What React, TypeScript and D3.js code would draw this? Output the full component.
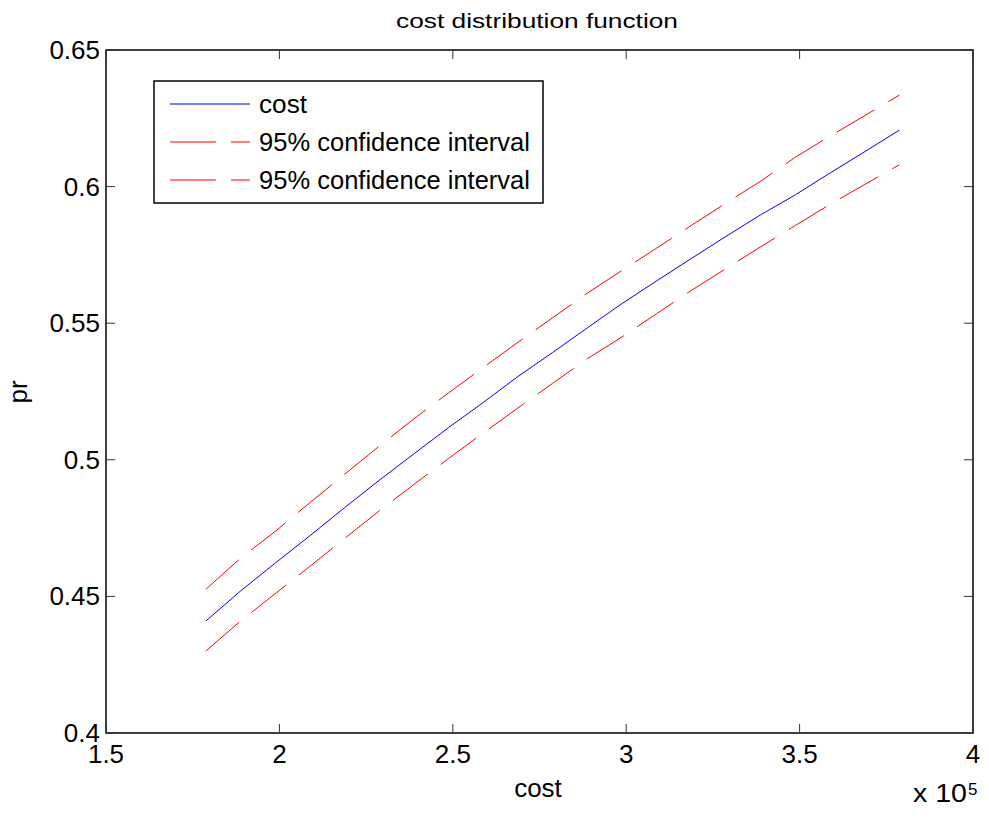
import React, { useEffect, useRef } from 'react';
import * as d3 from 'd3';

// cost values (x 10^5)
const costX = [1.788, 1.888, 1.988, 2.088, 2.188, 2.288, 2.388, 2.488, 2.588, 2.688, 2.788,
  2.888, 2.988, 3.088, 3.188, 3.288, 3.388, 3.488, 3.588, 3.688, 3.788];
const costPr = [0.4410, 0.4520, 0.4622, 0.4722, 0.4825, 0.4925, 0.5022, 0.5118, 0.5210, 0.5305, 0.5393,
  0.5483, 0.5572, 0.5655, 0.5737, 0.5818, 0.5897, 0.5970, 0.6050, 0.6128, 0.6207];
const upperPr = [0.4526, 0.4640, 0.4738, 0.4843, 0.4947, 0.5050, 0.5150, 0.5245, 0.5338, 0.5430, 0.5520,
  0.5610, 0.5693, 0.5775, 0.5858, 0.5940, 0.6020, 0.6108, 0.6185, 0.6260, 0.6335];
const lowerPr = [0.4300, 0.4410, 0.4510, 0.4610, 0.4712, 0.4813, 0.4910, 0.5005, 0.5098, 0.5190, 0.5280,
  0.5370, 0.5450, 0.5535, 0.5620, 0.5700, 0.5780, 0.5858, 0.5935, 0.6008, 0.6080];

const xTicks = [1.5, 2, 2.5, 3, 3.5, 4];
const yTicks = [0.4, 0.45, 0.5, 0.55, 0.6, 0.65];
const legendLabels = ['cost', '95% confidence interval', '95% confidence interval'];

const FONT = '"Liberation Sans", Arial, Helvetica, sans-serif';

const App: React.FC = () => {
  const svgRef = useRef<SVGSVGElement | null>(null);

  useEffect(() => {
    if (!svgRef.current) return;
    const svg = d3.select(svgRef.current);
    svg.selectAll('*').remove();

    const left = 106, right = 973, top = 50, bottom = 733;
    const x = d3.scaleLinear().domain([1.5, 4]).range([left, right]);
    const y = d3.scaleLinear().domain([0.4, 0.65]).range([bottom, top]);
    const tick = 9;

    svg.append('rect').attr('width', 989).attr('height', 820).attr('fill', '#fff');

    // axes box
    svg.append('rect')
      .attr('x', left).attr('y', top)
      .attr('width', right - left).attr('height', bottom - top)
      .attr('fill', 'none').attr('stroke', '#000').attr('stroke-width', 1.5);

    // ticks (inside, all four sides)
    const tickG = svg.append('g').attr('stroke', '#333').attr('stroke-width', 1);
    xTicks.forEach(t => {
      tickG.append('line').attr('x1', x(t)).attr('x2', x(t)).attr('y1', bottom).attr('y2', bottom - tick);
      tickG.append('line').attr('x1', x(t)).attr('x2', x(t)).attr('y1', top).attr('y2', top + tick);
    });
    yTicks.forEach(t => {
      tickG.append('line').attr('x1', left).attr('x2', left + tick).attr('y1', y(t)).attr('y2', y(t));
      tickG.append('line').attr('x1', right).attr('x2', right - tick).attr('y1', y(t)).attr('y2', y(t));
    });

    // tick labels
    svg.append('g').selectAll('text').data(xTicks).enter().append('text')
      .attr('x', d => x(d)).attr('y', 763)
      .attr('text-anchor', 'middle')
      .style('font-family', FONT).style('font-size', '26px')
      .text(d => String(d));

    svg.append('g').selectAll('text').data(yTicks).enter().append('text')
      .attr('x', 100).attr('y', d => y(d) + 9)
      .attr('text-anchor', 'end')
      .style('font-family', FONT).style('font-size', '26px')
      .text(d => String(d));

    // exponent
    svg.append('text').attr('x', 913).attr('y', 802)
      .attr('textLength', 54).attr('lengthAdjust', 'spacingAndGlyphs')
      .style('font-family', FONT).style('font-size', '26px').text('x 10');
    svg.append('text').attr('x', 968).attr('y', 795)
      .style('font-family', FONT).style('font-size', '17px').text('5');

    // axis labels + title
    svg.append('text').attr('x', 538).attr('y', 797).attr('text-anchor', 'middle')
      .style('font-family', FONT).style('font-size', '26px').text('cost');
    svg.append('text').attr('transform', 'translate(27,392) rotate(-90)').attr('text-anchor', 'middle')
      .style('font-family', FONT).style('font-size', '26px').text('pr');
    svg.append('text').attr('x', 537).attr('y', 28).attr('text-anchor', 'middle')
      .attr('textLength', 282).attr('lengthAdjust', 'spacingAndGlyphs')
      .style('font-family', FONT).style('font-size', '21px').text('cost distribution function');

    // lines
    const line = d3.line<number>()
      .x((_, i) => x(costX[i]))
      .y(d => y(d));

    svg.append('path').datum(upperPr).attr('d', line)
      .attr('fill', 'none').attr('stroke', '#ff0000').attr('stroke-width', 1)
      .attr('stroke-dasharray', '44,16');
    svg.append('path').datum(lowerPr).attr('d', line)
      .attr('fill', 'none').attr('stroke', '#ff0000').attr('stroke-width', 1)
      .attr('stroke-dasharray', '44,16');
    svg.append('path').datum(costPr).attr('d', line)
      .attr('fill', 'none').attr('stroke', '#0000ff').attr('stroke-width', 1);

    // legend
    const lg = svg.append('g');
    lg.append('rect').attr('x', 154).attr('y', 81).attr('width', 389).attr('height', 122)
      .attr('fill', '#fff').attr('stroke', '#000').attr('stroke-width', 1.5);
    const rowsY = [104, 142, 180];
    const colors = ['#0000ff', '#ff0000', '#ff0000'];
    const widths = [48, 271, 271];
    legendLabels.forEach((lab, i) => {
      lg.append('line').attr('x1', 170).attr('x2', 250).attr('y1', rowsY[i]).attr('y2', rowsY[i])
        .attr('stroke', colors[i]).attr('stroke-width', 1)
        .attr('stroke-dasharray', i === 0 ? null : '46,15');
      lg.append('text').attr('x', 259).attr('y', rowsY[i] + 9)
        .attr('textLength', widths[i]).attr('lengthAdjust', 'spacingAndGlyphs')
        .style('font-family', FONT).style('font-size', '25px').text(lab);
    });
  }, []);

  return (
    <svg ref={svgRef} width={989} height={820}
      style={{ position: 'absolute', left: 0, top: 0, display: 'block' }} />
  );
};

export default App;
